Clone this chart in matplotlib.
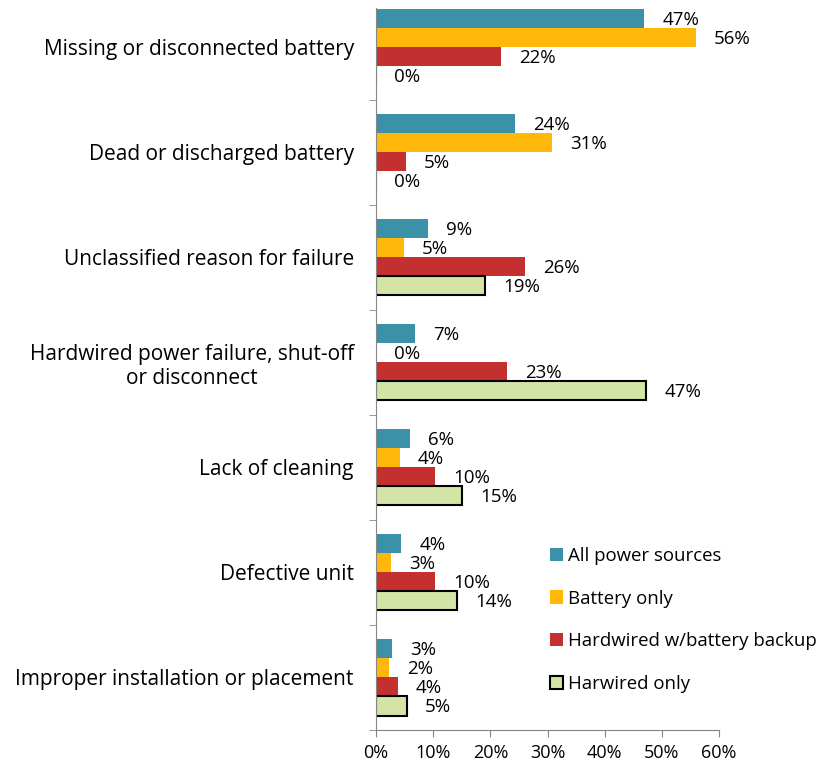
import numpy as np
import matplotlib.pyplot as plt
from matplotlib.ticker import FixedLocator, PercentFormatter

categories = ["Missing or disconnected battery",
              "Dead or discharged battery",
              "Unclassified reason for failure",
              "Hardwired power failure, shut-off\nor disconnect",
              "Lack of cleaning",
              "Defective unit",
              "Improper installation or placement"]
series = ["All power sources", "Battery only",
          "Hardwired w/battery backup", "Harwired only"]
all_power = [46.9, 24.4, 9.1, 6.8, 5.9, 4.4, 2.8]
battery_only = [55.9, 30.8, 4.9, 0, 4.2, 2.6, 2.3]
hardwired_backup = [21.9, 5.2, 26.0, 22.9, 10.4, 10.4, 3.8]
hardwired_only = [0, 0, 19.1, 47.3, 15.0, 14.2, 5.4]

colors = ["#3A91A8", "#FFB80A", "#C4302F", "#D3E4A6"]
edges = ["none", "none", "none", "black"]

plt.rcParams['font.family'] = ['Open Sans', 'DejaVu Sans']
fig = plt.figure(figsize=(8.23, 7.65), dpi=100)
ax = fig.add_axes([376/823, 1-730/765, 343/823, 722/765])

h = 0.181
y = np.arange(len(categories))
data = [all_power, battery_only, hardwired_backup, hardwired_only]
for j, vals in enumerate(data):
    pos = y + (j - 1.5) * h
    ax.barh(pos, vals, height=h, color=colors[j], edgecolor=edges[j],
            linewidth=1.5 if j == 3 else 0, label=series[j])
    for p, v in zip(pos, vals):
        ax.annotate(f"{v:.0f}%", (v, p), xytext=(13, -1), textcoords="offset points",
                    va="center", ha="left", fontsize=13.5)

ax.set_xlim(0, 60)
ax.set_ylim(6.5, -0.372)
ax.xaxis.set_major_locator(FixedLocator(np.arange(0, 61, 10)))
ax.xaxis.set_major_formatter(PercentFormatter(decimals=0))
ax.set_yticks(y)
ax.set_yticklabels(categories, ha="right", multialignment="center")
ax.yaxis.set_minor_locator(FixedLocator(np.arange(0.5, 6.6, 1.0)))
ax.tick_params(axis="y", which="major", length=0, pad=16, labelsize=15)
ax.tick_params(axis="y", which="minor", length=5, color="#868686")
ax.tick_params(axis="x", length=5, color="#868686", labelsize=13, pad=5)
for s in ["top", "right"]:
    ax.spines[s].set_visible(False)
for s in ["left", "bottom"]:
    ax.spines[s].set_color("#868686")

ax.legend(loc="upper left", bbox_to_anchor=(533/823, 1-530/765), bbox_transform=fig.transFigure,
          frameon=False, fontsize=13.4, handlelength=0.72, handleheight=0.72,
          handletextpad=0.25, labelspacing=1.33)

fig.savefig("out.png", dpi=100)
